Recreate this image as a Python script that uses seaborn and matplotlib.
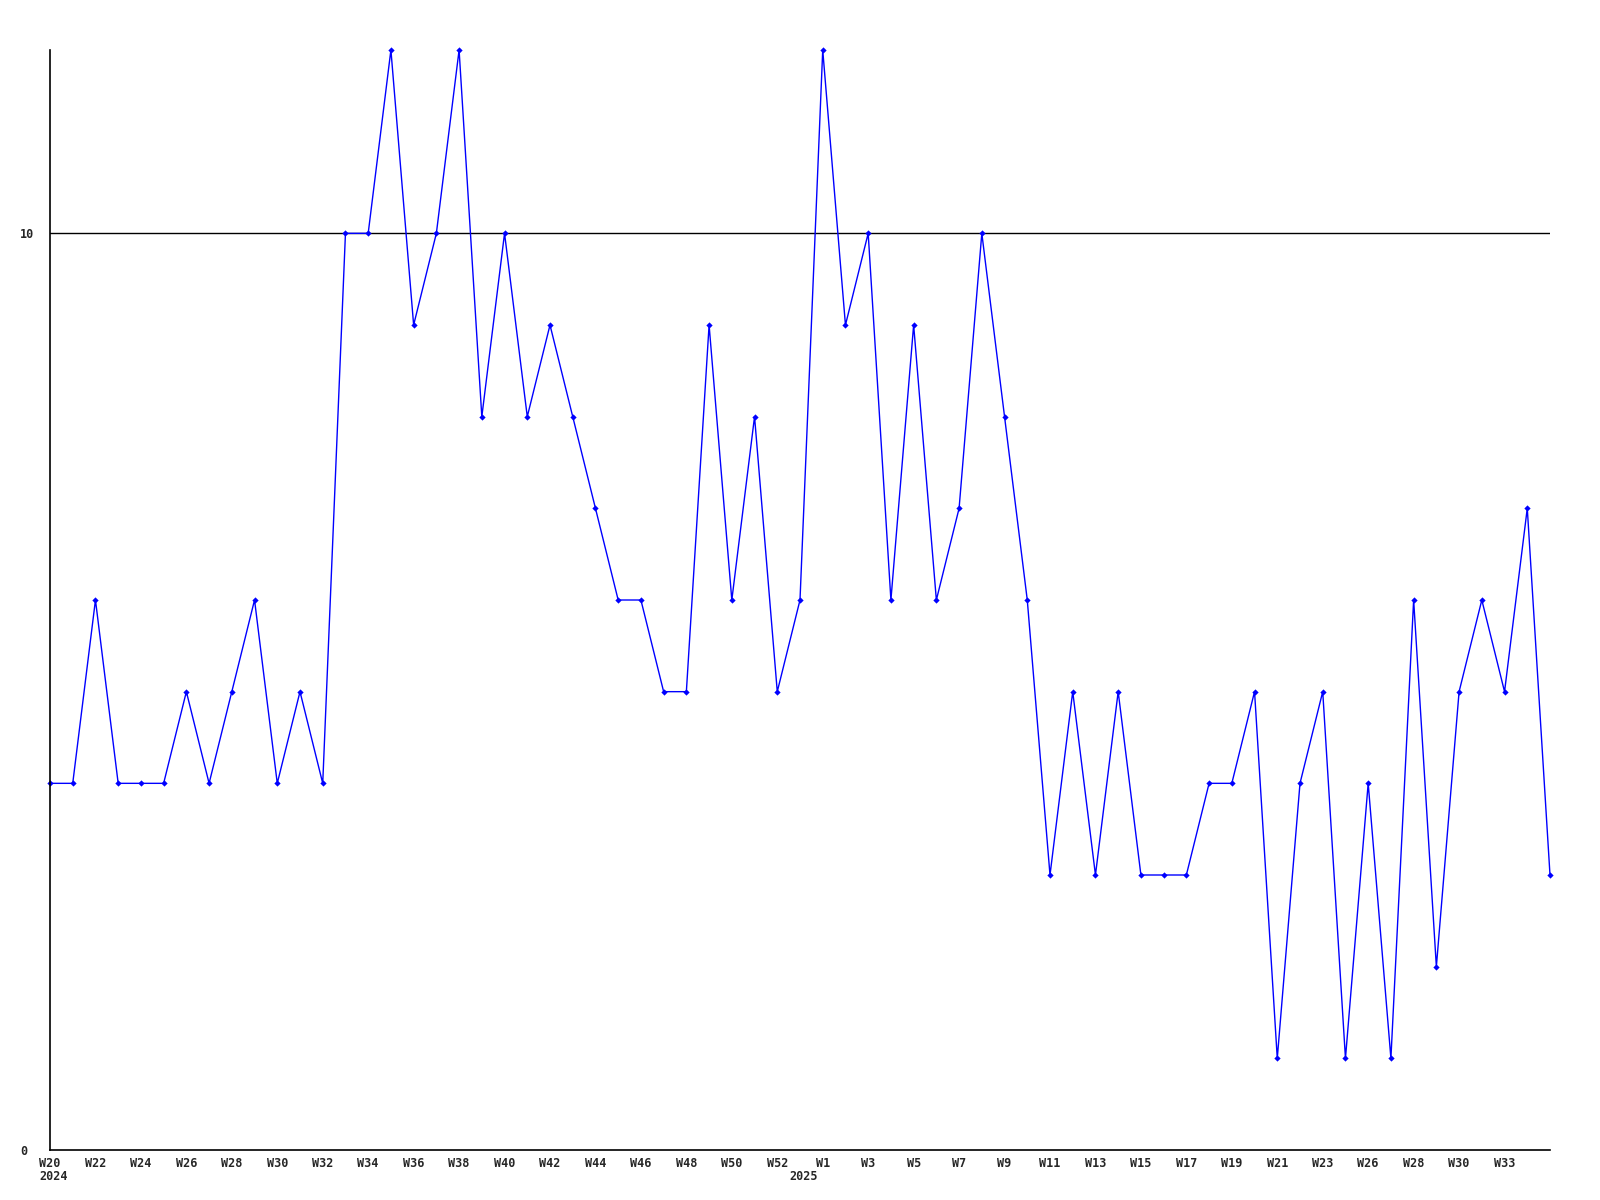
import matplotlib
matplotlib.use("Agg")
import matplotlib.pyplot as plt
import pandas as pd
import seaborn as sns

# weekly counts, one per week starting W20 2024
VALUES = [
    4, 4, 6, 4, 4, 4, 5, 4, 5, 6, 4, 5, 4, 10, 10, 12, 9, 10, 12, 8,
    10, 8, 9, 8, 7, 6, 6, 5, 5, 9, 6, 8, 5, 6, 12, 9, 10, 6, 9, 6,
    7, 10, 8, 6, 3, 5, 3, 5, 3, 3, 3, 4, 4, 5, 1, 4, 5, 1, 4, 1,
    6, 2, 5, 6, 5, 7, 3,
]
WEEK_LABELS = [
    "W20", "W22", "W24", "W26", "W28", "W30", "W32", "W34", "W36", "W38",
    "W40", "W42", "W44", "W46", "W48", "W50", "W52", "W1", "W3", "W5",
    "W7", "W9", "W11", "W13", "W15", "W17", "W19", "W21", "W23", "W26",
    "W28", "W30", "W33",
]
YEAR_LABELS = ["2024", "2025"]
YEAR_POS = [0, 33]
Y_TICKS = [0, 10]
THRESHOLD = 10

FONT = "DejaVu Sans Mono"

sns.set_style("white")
plt.rcParams["font.family"] = [FONT, "DejaVu Sans"]

df = pd.DataFrame({"week": range(len(VALUES)), "count": VALUES})

fig = plt.figure(figsize=(16, 12), dpi=100)
ax = fig.add_axes([50 / 1600, 50 / 1200, 1500 / 1600, 1100 / 1200])

sns.lineplot(
    data=df, x="week", y="count", ax=ax,
    color="#0000ff", linewidth=1.0, marker="D", markersize=3.2,
    markeredgewidth=0, clip_on=False,
)
ax.axhline(THRESHOLD, color="black", linewidth=1.0, zorder=1)

ax.set_xlim(0, len(VALUES) - 1)
ax.set_ylim(0, 12)
ax.set_xlabel("")
ax.set_ylabel("")

ax.set_xticks(range(0, 2 * len(WEEK_LABELS), 2))
ax.set_xticklabels(WEEK_LABELS, fontsize=8.5, fontweight="bold")
ax.set_yticks(Y_TICKS)
ax.set_yticklabels([str(t) for t in Y_TICKS], fontsize=8.5, fontweight="bold", ha="left")
ax.tick_params(axis="x", length=0, pad=5)
ax.tick_params(axis="y", length=0, pad=21.5)

for pos, year in zip(YEAR_POS, YEAR_LABELS):
    ax.annotate(year, xy=(pos + 0.15, 0), xycoords=("data", "axes fraction"),
                xytext=(0, -27), textcoords="offset pixels",
                ha="center", va="center", fontsize=8.5, fontweight="bold")

for side in ["top", "right"]:
    ax.spines[side].set_visible(False)
for side in ["left", "bottom"]:
    ax.spines[side].set_color("black")
    ax.spines[side].set_linewidth(1.2)

fig.savefig("out.png", dpi=100)
